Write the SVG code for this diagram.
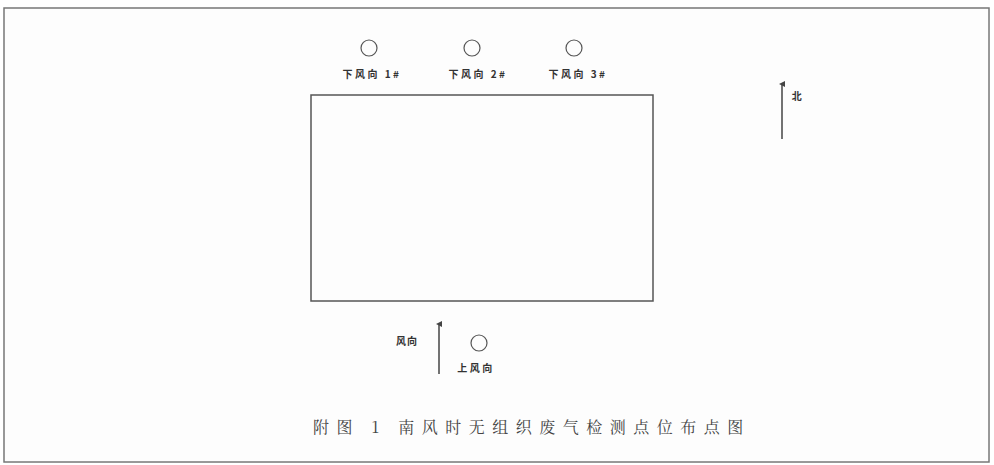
<svg xmlns="http://www.w3.org/2000/svg" width="994" height="465" viewBox="0 0 994 465">
<style>
.frame{fill:#fdfdfd;stroke:#777;stroke-width:1.5}
.site{fill:none;stroke:#555;stroke-width:1.5}
.pt{fill:none;stroke:#555;stroke-width:1.2}
.lbl{font-family:"Noto Sans CJK SC",sans-serif;font-size:10px;font-weight:bold;fill:#333;text-anchor:middle;letter-spacing:2.5px}
.cap{font-family:"Noto Serif CJK SC","Noto Sans CJK SC",serif;font-size:16px;fill:#444;letter-spacing:7.5px}
.arr{stroke:#444;stroke-width:1.5;fill:none}
</style>
<defs>
<marker id="ah" markerWidth="6" markerHeight="6" refX="3" refY="3" orient="auto" markerUnits="userSpaceOnUse">
<path d="M0,6 L3,0 L6,6 Z" fill="#444"/>
</marker>
</defs>
<rect x="0" y="0" width="994" height="465" fill="#ffffff"/>
<rect class="frame" x="4" y="8" width="985" height="454"/>
<g id="site"><rect class="site" x="311" y="95" width="342" height="206"/></g>
<g id="down1"><circle class="pt" cx="369" cy="48" r="8"/><text class="lbl" x="372" y="78">下风向 1#</text></g>
<g id="down2"><circle class="pt" cx="472" cy="48" r="8"/><text class="lbl" x="478" y="78">下风向 2#</text></g>
<g id="down3"><circle class="pt" cx="574" cy="48" r="8"/><text class="lbl" x="578" y="78">下风向 3#</text></g>
<g id="up"><circle class="pt" cx="479" cy="343" r="8"/><text class="lbl" x="476" y="372">上风向</text></g>
<g id="north"><text class="lbl" x="798" y="100">北</text></g>
<g id="wind"><text class="lbl" x="407" y="345" style="letter-spacing:1px">风向</text></g>
<g id="connectors">
<line class="arr" x1="782" y1="139" x2="782" y2="84" marker-end="url(#ah)"/>
<line class="arr" x1="439" y1="374" x2="439" y2="324" marker-end="url(#ah)"/>
</g>
<text class="cap" x="313" y="433">附图 1 南风时无组织废气检测点位布点图</text>
</svg>
